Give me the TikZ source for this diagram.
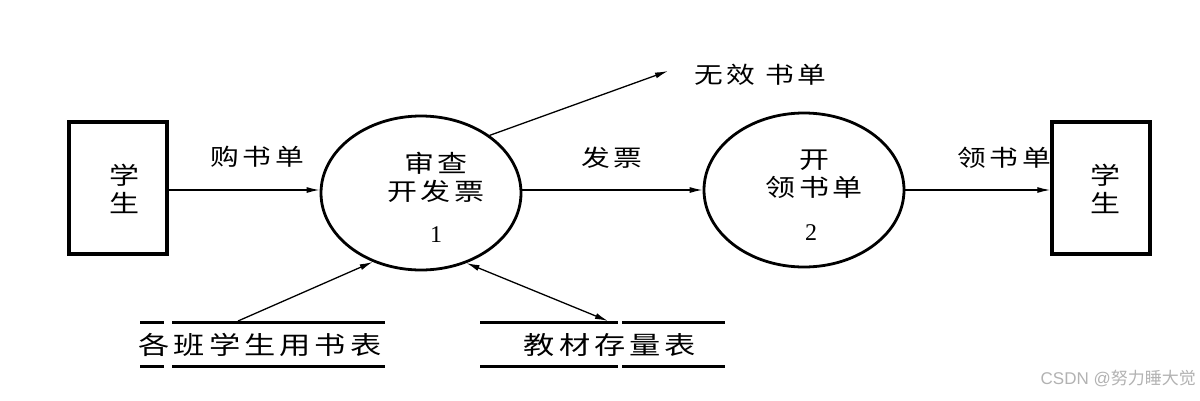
\documentclass[tikz,border=0pt]{standalone}
\usepackage{fontspec}
\setmainfont{Liberation Serif}
\newfontfamily\cjk[FakeStretch=1.25,LetterSpace=16]{Noto Sans CJK SC}
\newfontfamily\cjkw{Noto Sans CJK SC}
\newfontfamily\wm{Liberation Sans}
\usetikzlibrary{arrows.meta,shapes.geometric}
\tikzset{
  ent/.style={draw, line width=3.5pt, minimum width=98pt, minimum height=132pt, inner sep=0pt},
  proc/.style={draw, ellipse, line width=2.8pt, minimum width=200pt, minimum height=154pt, inner sep=0pt},
  tip/.tip={Latex[length=13pt,width=6pt]},
  flow/.style={line width=1.3pt, -tip},
  bflow/.style={line width=1.3pt, tip-tip},
  lbl/.style={font=\cjk\fontsize{23pt}{25pt}\selectfont, inner sep=0pt},
  txt/.style={font=\cjk\fontsize{24pt}{28pt}\selectfont, inner sep=0pt, align=center},
  num/.style={font=\fontsize{24pt}{26pt}\selectfont, inner sep=0pt},
  slbl/.style={font=\cjk\fontsize{25pt}{27pt}\selectfont, inner sep=0pt},
  store/.style={line width=3pt}
}
\begin{document}
\begin{tikzpicture}[x=1pt,y=-1pt]
\useasboundingbox (0,0) rectangle (1200,400);
% entities
\node[ent] (s1) at (118,188) {};
\node[txt] at (124,189) {学\\生};
\node[ent] (s2) at (1101,188) {};
\node[txt] at (1105,189) {学\\生};
% processes
\node[proc] (p1) at (421,193) {};
\node[txt] at (436,177) {审查\\开发票};
\node[num] at (436,235) {1};
\node[proc] (p2) at (804,190) {};
\node[txt] at (814,174) {开\\领书单};
\node[num] at (811,233) {2};
% flows
\draw[flow] (s1.east |- 0,190) -- (p1.west |- 0,190);
\node[lbl] at (257,157) {购书单};
\draw[flow] (p1.east |- 0,190) -- (p2.west |- 0,190);
\node[lbl] at (612,158) {发票};
\draw[flow] (p2.east |- 0,190) -- (s2.west |- 0,190);
\node[lbl] at (1004,158) {领书单};
\coordinate (inv) at (668,71);
\draw[flow] (p1.40) -- (inv);
\node[lbl,anchor=west] at (694,75) {无效 书单};
% stores
\draw[store] (140,322) -- (164,322) (172,322) -- (385,322);
\draw[store] (140,366) -- (164,366) (172,366) -- (385,366);
\node[slbl] (d1) at (260,345) {各班学生用书表};
\draw[store] (480,322) -- (618,322) (622,322) -- (725,322);
\draw[store] (480,366) -- (618,366) (622,366) -- (725,366);
\node[slbl] (d2) at (610,345) {教材存量表};
\coordinate (d1t) at (238,321);
\coordinate (d2t) at (608,321);
\draw[flow] (d1t) -- (p1.235);
\draw[bflow] (p1.-57) -- (d2t);
% watermark
\node[font=\wm\fontsize{17pt}{19pt}\selectfont, text=black!30, anchor=east, inner sep=0pt] at (1196,378) {CSDN @{\cjkw 努力睡大觉}};
\end{tikzpicture}
\end{document}
